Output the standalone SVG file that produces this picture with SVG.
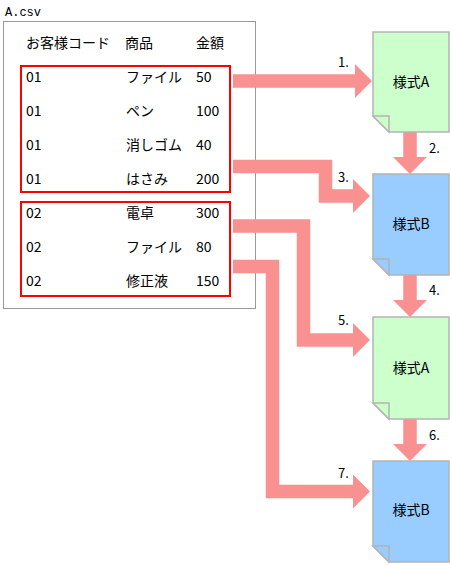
<svg xmlns="http://www.w3.org/2000/svg" width="452" height="565" viewBox="0 0 452 565">
<style>
text{font-family:"Noto Sans CJK JP","Liberation Sans",sans-serif;font-size:14px;fill:#000}
.t{font-size:12px;font-family:"Liberation Mono","Noto Sans CJK JP",monospace}
.lbl{font-size:13px}
.grp{fill:none;stroke:#ff0000;stroke-width:2}
.conn{fill:none;stroke:#f99191;stroke-width:13.5;stroke-linejoin:miter}
.docA{fill:#ccffcc;stroke:#b4b4b4;stroke-width:1.5}
.docB{fill:#99ccff;stroke:#b4b4b4;stroke-width:1.5}
</style>
<defs>
<marker id="ah" markerUnits="userSpaceOnUse" markerWidth="18" markerHeight="34" refX="0" refY="17" orient="auto">
<path d="M0,0 L17,17 L0,34 Z" fill="#f99191"/>
</marker>
</defs>
<rect width="452" height="565" fill="#fff"/>
<g id="csv">
<text class="t" x="5" y="16">A.csv</text>
<rect x="3.5" y="21.5" width="252" height="287" fill="none" stroke="#999" stroke-width="1"/>
<text x="26" y="48">お客様コード</text>
<text x="125" y="48">商品</text>
<text x="196" y="48">金額</text>
</g>
<g id="group01">
<rect class="grp" x="21" y="66" width="209" height="126"/>
<text x="26" y="82">01</text><text x="126" y="82">ファイル</text><text x="196" y="82">50</text>
<text x="26" y="116">01</text><text x="126" y="116">ペン</text><text x="196" y="116">100</text>
<text x="26" y="150">01</text><text x="126" y="150">消しゴム</text><text x="196" y="150">40</text>
<text x="26" y="184">01</text><text x="126" y="184">はさみ</text><text x="196" y="184">200</text>
</g>
<g id="group02">
<rect class="grp" x="21" y="202" width="209" height="94"/>
<text x="26" y="218">02</text><text x="126" y="218">電卓</text><text x="196" y="218">300</text>
<text x="26" y="252">02</text><text x="126" y="252">ファイル</text><text x="196" y="252">80</text>
<text x="26" y="286">02</text><text x="126" y="286">修正液</text><text x="196" y="286">150</text>
</g>
<g id="connectors">
<path class="conn" d="M233,81 H355" marker-end="url(#ah)"/>
<path class="conn" d="M233,166.5 H325.5 V196 H353" marker-end="url(#ah)"/>
<path class="conn" d="M233,226 H303.5 V340 H353" marker-end="url(#ah)"/>
<path class="conn" d="M233,266.5 H272.5 V491.5 H353" marker-end="url(#ah)"/>
<path class="conn" d="M410,132 V157" marker-end="url(#ah)"/>
<path class="conn" d="M410,275 V300" marker-end="url(#ah)"/>
<path class="conn" d="M410,419 V444" marker-end="url(#ah)"/>
<text class="lbl" x="338" y="67">1.</text>
<text class="lbl" x="429" y="153">2.</text>
<text class="lbl" x="338" y="182">3.</text>
<text class="lbl" x="429" y="295">4.</text>
<text class="lbl" x="338" y="325">5.</text>
<text class="lbl" x="429" y="440">6.</text>
<text class="lbl" x="338" y="478">7.</text>
</g>
<g id="formA1">
<path class="docA" d="M373,32 H449 V132 H389 L373,116 Z"/>
<path class="docA" d="M373,116 H389 V132 Z"/>
<text x="411" y="87" text-anchor="middle">様式A</text>
</g>
<g id="formB1">
<path class="docB" d="M373,174 H449 V275 H389 L373,259 Z"/>
<path class="docB" d="M373,259 H389 V275 Z"/>
<text x="411" y="229" text-anchor="middle">様式B</text>
</g>
<g id="formA2">
<path class="docA" d="M373,317 H449 V419 H389 L373,403 Z"/>
<path class="docA" d="M373,403 H389 V419 Z"/>
<text x="411" y="373" text-anchor="middle">様式A</text>
</g>
<g id="formB2">
<path class="docB" d="M373,461 H449 V562 H389 L373,546 Z"/>
<path class="docB" d="M373,546 H389 V562 Z"/>
<text x="411" y="515" text-anchor="middle">様式B</text>
</g>
</svg>
